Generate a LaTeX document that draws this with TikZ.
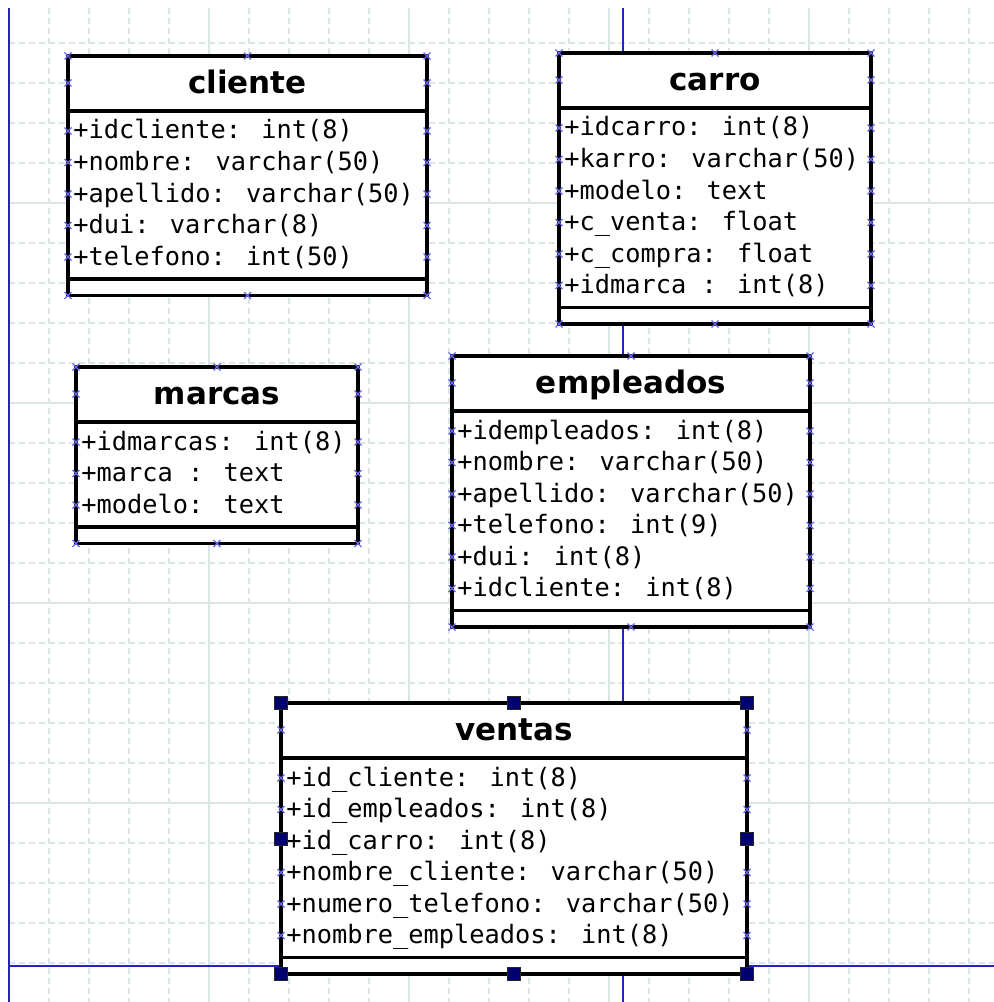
\documentclass[tikz,border=0pt]{standalone}
\usepackage{fontspec}
\setmainfont{DejaVu Sans}
\newfontfamily\monofont{DejaVu Sans Mono}
\definecolor{gridc}{RGB}{218,230,230}
\definecolor{pageblue}{RGB}{35,35,190}
\definecolor{cpblue}{RGB}{105,105,235}
\definecolor{handlec}{RGB}{0,0,110}
\tikzset{
  boxline/.style={draw=black,line width=2.6pt},
  cpmark/.style={draw=cpblue,line width=0.9pt},
  handlebox/.style={fill=handlec,draw=black!85,line width=0.6pt},
  titletext/.style={font=\fontsize{23.25}{28}\selectfont\bfseries,inner sep=0pt,anchor=base},
  attrtext/.style={font=\monofont\fontsize{19}{23}\selectfont,inner sep=0pt,anchor=base west},
  gridsolid/.style={draw=gridc,line width=0.8pt},
  griddash/.style={draw=gridc,line width=0.8pt,dash pattern=on 4.5pt off 3pt},
  pageline/.style={draw=pageblue,line width=1.5pt},
}
\newcommand{\cpx}[2]{\draw[cpmark] ({#1-3.5},{#2-3.5}) -- ({#1+3.5},{#2+3.5}) ({#1-3.5},{#2+3.5}) -- ({#1+3.5},{#2-3.5});}
\newcommand{\hdl}[2]{\filldraw[handlebox] ({#1-6.5},{#2-6.5}) rectangle ({#1+6.5},{#2+6.5});}
% #1 name, #2 left, #3 right, #4 top, #5 rows, #6 title, #7 attributes
\newcommand{\classbox}[7]{%
  \pgfmathsetmacro\cbL{#2}\pgfmathsetmacro\cbR{#3}\pgfmathsetmacro\cbT{#4}%
  \pgfmathsetmacro\cbH{\cbT+55}%
  \pgfmathsetmacro\cbA{\cbH+42+31.5*(#5-1)}%
  \pgfmathsetmacro\cbB{\cbA+16.5}%
  \pgfmathsetmacro\cbM{(\cbL+\cbR)/2}%
  \pgfmathsetmacro\cbY{\cbT+27}%
  \draw[boxline,fill=white] (\cbL,\cbT) rectangle (\cbR,\cbB);
  \draw[boxline] (\cbL,\cbH) -- (\cbR,\cbH);
  \draw[boxline] (\cbL,\cbA) -- (\cbR,\cbA);
  \node[titletext] (#1-title) at (\cbM,\cbT+37.5) {#6};
  \foreach \rowtext [count=\i] in {#7} {
    \pgfmathsetmacro\ry{\cbH+20+31.5*(\i-1)}
    \node[attrtext] (#1-a\i) at (\cbL+5,\ry+8) {\rowtext};
    \cpx{\cbL}{\ry}\cpx{\cbR}{\ry}
  }
  \cpx{\cbL}{\cbT}\cpx{\cbM}{\cbT}\cpx{\cbR}{\cbT}
  \cpx{\cbL}{\cbB}\cpx{\cbM}{\cbB}\cpx{\cbR}{\cbB}
  \cpx{\cbL}{\cbY}\cpx{\cbR}{\cbY}
}
\begin{document}
\begin{tikzpicture}[x=0.75pt,y=-0.75pt]
\useasboundingbox (0,0) rectangle (994,1002);
\fill[white] (0,0) rectangle (994,1002);
% grid
\begin{scope}
  \clip (9,8) rectangle (994,1002);
  \foreach \gx in {49,89,...,969} \draw[griddash] (\gx,8) -- (\gx,1002);
  \foreach \gy in {43,83,...,1003} \draw[griddash] (9,\gy) -- (994,\gy);
  \foreach \gx in {209,409,609,809} \draw[gridsolid] (\gx,8) -- (\gx,1002);
  \foreach \gy in {203,403,603,803} \draw[gridsolid] (9,\gy) -- (994,\gy);
\end{scope}
% page boundaries
\draw[pageline] (9,8) -- (9,1002);
\draw[pageline] (623,8) -- (623,1002);
\draw[pageline] (9,966) -- (994,966);
% classes
\classbox{cliente}{68}{427}{56}{5}{cliente}{+idcliente: int(8),+nombre: varchar(50),+apellido: varchar(50),+dui: varchar(8),+telefono: int(50)}
\classbox{carro}{559}{871}{53}{6}{carro}{+idcarro: int(8),+karro: varchar(50),+modelo: text,+c\_venta: float,+c\_compra: float,+idmarca : int(8)}
\classbox{marcas}{76}{358}{367}{3}{marcas}{+idmarcas: int(8),+marca : text,+modelo: text}
\classbox{empleados}{452}{810}{356}{6}{empleados}{+idempleados: int(8),+nombre: varchar(50),+apellido: varchar(50),+telefono: int(9),+dui: int(8),+idcliente: int(8)}
\classbox{ventas}{281}{747}{703}{6}{ventas}{+id\_cliente: int(8),+id\_empleados: int(8),+id\_carro: int(8),+nombre\_cliente: varchar(50),+numero\_telefono: varchar(50),+nombre\_empleados: int(8)}
% selection handles of ventas
\hdl{281}{703}\hdl{514}{703}\hdl{747}{703}
\hdl{281}{838.5}\hdl{747}{838.5}
\hdl{281}{974}\hdl{514}{974}\hdl{747}{974}
\end{tikzpicture}
\end{document}
